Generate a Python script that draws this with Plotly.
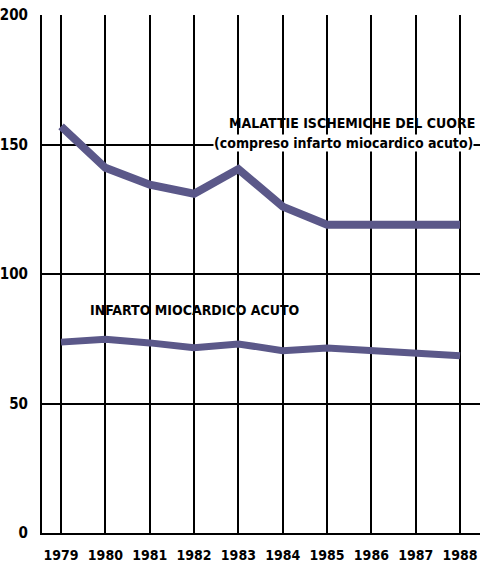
import plotly.graph_objects as go

years = [1979, 1980, 1981, 1982, 1983, 1984, 1985, 1986, 1987, 1988]
year_labels = ["1979", "1980", "1981", "1982", "1983", "1984", "1985", "1986", "1987", "1988"]
ischemiche = [157, 141, 134.5, 131, 140.5, 126, 119, 119, 119, 119]
infarto = [73.7, 74.8, 73.4, 71.5, 73, 70.4, 71.4, 70.4, 68.8, 68.4]
y_ticks = [0, 50, 100, 150, 200]

line_color = "#5b5889"
font_fam = "DejaVu Sans Condensed, sans-serif"

fig = go.Figure()
fig.add_trace(go.Scatter(x=years, y=ischemiche, mode="lines",
                         line=dict(color=line_color, width=8), showlegend=False))
fig.add_trace(go.Scatter(x=years, y=infarto, mode="lines",
                         line=dict(color=line_color, width=7), showlegend=False))

fig.add_annotation(x=1988.38, y=158.3, xref="x", yref="y", xanchor="right", yanchor="middle",
                   text="MALATTIE ISCHEMICHE DEL CUORE", showarrow=False,
                   font=dict(family=font_fam, size=14, color="black", weight="bold"))
fig.add_annotation(x=1988.32, y=150.4, xref="x", yref="y", xanchor="right", yanchor="middle",
                   text="(compreso infarto miocardico acuto)", showarrow=False,
                   bgcolor="white", borderpad=0,
                   font=dict(family=font_fam, size=14, color="black", weight="bold"))
fig.add_annotation(x=1979.61, y=86.2, xref="x", yref="y", xanchor="left", yanchor="middle",
                   text="INFARTO MIOCARDICO ACUTO", showarrow=False,
                   font=dict(family=font_fam, size=14, color="black", weight="bold"))

fig.update_layout(
    width=483, height=570,
    margin=dict(l=42, r=3, t=15, b=37, autoexpand=False),
    paper_bgcolor="white", plot_bgcolor="white",
    font=dict(family=font_fam, color="black", size=14, weight="bold"),
    xaxis=dict(range=[1978.57, 1988.45], tickvals=years, ticktext=year_labels,
               tickangle=0,
               showgrid=True, gridcolor="black", gridwidth=2, zeroline=False,
               showline=True, linecolor="black", linewidth=2, ticks="",
               ticklabelstandoff=8, tickfont=dict(size=14, weight="bold")),
    yaxis=dict(range=[0, 200], tickvals=y_ticks, showgrid=True, gridcolor="black",
               gridwidth=2, zeroline=False, showline=True, linecolor="black",
               linewidth=2, ticks="", ticklabelstandoff=9,
               tickfont=dict(size=15, weight="bold")),
)

fig.write_html("out.html", config={"displayModeBar": False},
               post_script="document.body.style.margin='0';")
